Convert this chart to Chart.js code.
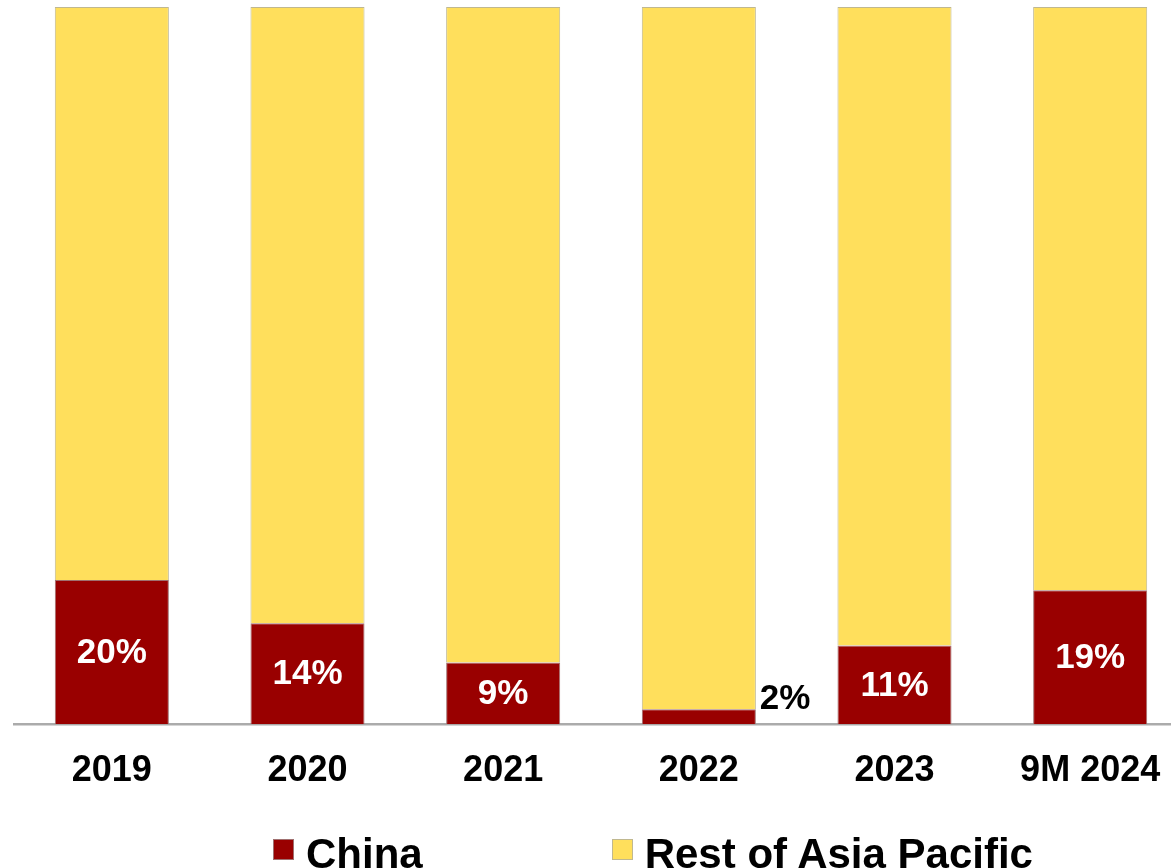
<!DOCTYPE html>
<html lang="en">

<head>
    <meta charset="UTF-8">
    <title>China share of Asia Pacific</title>
    <script src="https://cdn.jsdelivr.net/npm/chart.js@4.4.1/dist/chart.umd.min.js"></script>
    <style>
        body { margin: 0; overflow: hidden; background: #fff; }
        #wrap { position: relative; width: 1171px; height: 868px; overflow: hidden; }
        #myChart { position: absolute; left: 0; top: 0; }
        #legend {
            position: absolute; left: 273px; top: 832.5px;
            display: flex; font: bold 42px "Liberation Sans", Arial, sans-serif;
            line-height: 42px; color: #000; white-space: nowrap;
        }
        .item { display: flex; align-items: flex-start; }
        .item + .item { margin-left: 189px; }
        .box { width: 21px; height: 21px; margin-top: 6.5px; margin-right: 12px; box-sizing: border-box; }
    </style>
</head>

<body>
    <div id="wrap">
        <canvas id="myChart" width="1190" height="868"></canvas>
        <div id="legend"></div>
    </div>

    <script type="text/javascript">

        const years = ['2019', '2020', '2021', '2022', '2023', '9M 2024'];
        const china = [20.1, 14.1, 8.6, 2.1, 11.0, 18.7];
        const restOfAsia = [79.9, 85.9, 91.4, 97.9, 89.0, 81.3];

        const font = '"Liberation Sans", Arial, sans-serif';

        // labels on the China segments, white inside, black beside tiny ones
        const barLabels = {
            id: 'barLabels',
            afterDatasetsDraw(chart) {
                const ctx = chart.ctx;
                const meta = chart.getDatasetMeta(0);
                ctx.save();
                ctx.font = 'bold 35px ' + font;
                meta.data.forEach((bar, i) => {
                    const txt = Math.round(china[i]) + '%';
                    if (china[i] < 5) {
                        ctx.fillStyle = '#000';
                        ctx.textAlign = 'left';
                        ctx.textBaseline = 'alphabetic';
                        ctx.fillText(txt, bar.x + bar.width / 2 + 4, bar.y);
                    } else {
                        ctx.fillStyle = '#fff';
                        ctx.textAlign = 'center';
                        ctx.textBaseline = 'middle';
                        ctx.fillText(txt, bar.x, (bar.y + bar.base) / 2 + 1);
                    }
                });
                ctx.restore();
            }
        };

        const ctx = document.getElementById('myChart').getContext('2d');
        const myChart = new Chart(ctx, {
            type: 'bar',
            data: {
                labels: years,
                datasets: [{
                    label: 'China',
                    data: china,
                    backgroundColor: '#990000',
                    borderColor: '#a07070',
                    borderWidth: 1,
                    barPercentage: 0.583,
                    categoryPercentage: 1
                },
                {
                    label: 'Rest of Asia Pacific',
                    data: restOfAsia,
                    backgroundColor: '#FFDF5C',
                    borderColor: '#c0b890',
                    borderWidth: 1,
                    barPercentage: 0.583,
                    categoryPercentage: 1
                }]
            },
            options: {
                responsive: false,
                animation: false,
                layout: { padding: { left: 14, right: 2, top: 7, bottom: 57.5 } },
                plugins: {
                    legend: { display: false },
                    tooltip: { enabled: false }
                },
                scales: {
                    x: {
                        stacked: true,
                        grid: { display: false },
                        border: { display: true, color: '#ababab', width: 2.5 },
                        ticks: {
                            color: '#000',
                            padding: 17.5,
                            font: { family: font, size: 36, weight: 'bold' }
                        }
                    },
                    y: {
                        stacked: true,
                        display: false,
                        min: 0,
                        max: 100
                    }
                }
            },
            plugins: [barLabels]
        });

        // html legend built from the datasets
        const legendEl = document.getElementById('legend');
        myChart.data.datasets.forEach(ds => {
            const item = document.createElement('div');
            item.className = 'item';
            const box = document.createElement('span');
            box.className = 'box';
            box.style.background = ds.backgroundColor;
            box.style.border = '1px solid ' + ds.borderColor;
            item.appendChild(box);
            item.appendChild(document.createTextNode(ds.label));
            legendEl.appendChild(item);
        });

    </script>
</body>

</html>
